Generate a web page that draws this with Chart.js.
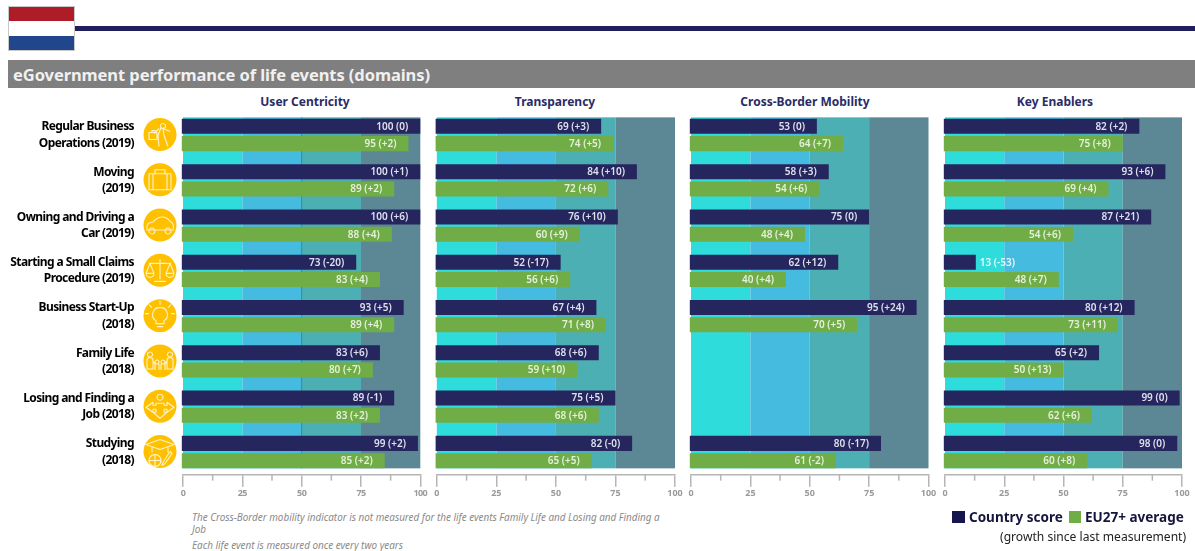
<!DOCTYPE html>
<html><head><meta charset="utf-8">
<script src="https://cdn.jsdelivr.net/npm/chart.js@4"></script>
<style>
html,body{margin:0;padding:0;background:#fff;width:1195px;height:551px;overflow:hidden;font-family:"Noto Sans","Open Sans",sans-serif}
.abs{position:absolute;white-space:nowrap}
canvas{position:absolute}
.holder{position:absolute;top:100px;height:410px}
.ptitle{position:absolute;top:93px;transform:translateX(-50%);font-weight:700;font-size:12px;color:#2b2b66;white-space:nowrap}
</style></head><body>
<div class="abs" style="left:8px;top:6px;width:67px;height:45px;box-sizing:border-box;border:1px solid #c9c9c9;background:linear-gradient(#AE1C28 0 33%,#fff 33% 67%,#21468B 67%)"></div>
<div class="abs" style="left:75px;top:26px;width:1120px;height:5px;background:#1f1f5e"></div>
<div class="abs" style="left:8px;top:60px;width:1187px;height:28px;background:#7f7f7f"></div>
<div class="abs" style="left:13px;top:63px;font-weight:700;font-size:16.5px;line-height:24px;color:#f0f0f0;letter-spacing:-.08px">eGovernment performance of life events (domains)</div>
<div class="ptitle" style="left:305px">User Centricity</div>
<div class="ptitle" style="left:555px">Transparency</div>
<div class="ptitle" style="left:805px">Cross-Border Mobility</div>
<div class="ptitle" style="left:1055px">Key Enablers</div>
<div class="holder" style="left:0;width:436px"><canvas id="c0"></canvas></div>
<div class="holder" style="left:420px;width:270px"><canvas id="c1"></canvas></div>
<div class="holder" style="left:674px;width:270px"><canvas id="c2"></canvas></div>
<div class="holder" style="left:928px;width:267px"><canvas id="c3"></canvas></div>
<div class="abs" style="left:192px;top:512px;font-style:italic;font-size:9.9px;line-height:11.5px;color:#8a8a8a">The Cross-Border mobility indicator is not measured for the life events Family Life and Losing and Finding a<br>Job</div>
<div class="abs" style="left:192px;top:540px;font-style:italic;font-size:9.9px;line-height:11.5px;color:#8a8a8a">Each life event is measured once every two years</div>
<div class="abs" style="left:952px;top:511px;width:13px;height:12px;background:#16164f"></div>
<div class="abs" style="left:969px;top:508px;font-weight:700;font-size:13.5px;line-height:18px;color:#14143c">Country score</div>
<div class="abs" style="left:1069px;top:511px;width:12px;height:12px;background:#70AD47"></div>
<div class="abs" style="left:1085px;top:508px;font-weight:700;font-size:13.5px;line-height:18px;color:#14143c">EU27+ average</div>
<div class="abs" style="left:1000px;top:529px;font-size:12.1px;line-height:16px;color:#222">(growth since last measurement)</div>
<script>
const lifeEvents = [
  ["Regular Business","Operations (2019)"],["Moving","(2019)"],["Owning and Driving a","Car (2019)"],
  ["Starting a Small Claims","Procedure (2019)"],["Business Start-Up","(2018)"],["Family Life","(2018)"],
  ["Losing and Finding a","Job (2018)"],["Studying","(2018)"]];
const domains = ["User Centricity","Transparency","Cross-Border Mobility","Key Enablers"];
const seriesNames = ["Country score","EU27+ average"];
const tickLabels = [0,25,50,75,100];

const userCountry = [100,100,100,73,93,83,89,99];
const userCountryGrowth = ["0","+1","+6","-20","+5","+6","-1","+2"];
const userEU = [95,89,88,83,89,80,83,85];
const userEUGrowth = ["+2","+2","+4","+4","+4","+7","+2","+2"];

const transCountry = [69,84,76,52,67,68,75,82];
const transCountryGrowth = ["+3","+10","+10","-17","+4","+6","+5","-0"];
const transEU = [74,72,60,56,71,59,68,65];
const transEUGrowth = ["+5","+6","+9","+6","+8","+10","+6","+5"];

const crossCountry = [53,58,75,62,95,null,null,80];
const crossCountryGrowth = ["0","+3","0","+12","+24",null,null,"-17"];
const crossEU = [64,54,48,40,70,null,null,61];
const crossEUGrowth = ["+7","+6","+4","+4","+5",null,null,"-2"];

const keyCountry = [82,93,87,13,80,65,99,98];
const keyCountryGrowth = ["+2","+6","+21","-53","+12","+2","0","0"];
const keyEU = [75,69,54,48,73,50,62,60];
const keyEUGrowth = ["+8","+4","+6","+7","+11","+13","+6","+8"];

const bandColors = ["#2FDCDC","#45BBDF","#4CAFB3","#5B8894"];
const navy = "#26265F", green = "#70AD47";
const FONT = '"Noto Sans","Open Sans",sans-serif';

/* white outline glyphs, in a box centred on the icon circle */
const iconPaths = [
 "M3-11a2.6 2.6 0 1 0 .01 0M1-7-2 1-1 12M3-7 4 1 8 12M3-6 10-3M-1-6-6-1M-11-2h8v7h-8zM-8-2v-2h3v2",
 "M-11-6H11V10H-11zM-5-6V-10H5V-6M-7-6V10M7-6V10",
 "M-13 5V1C-13-2-9-3-7-3-4-7 0-8 3-8 7-8 9-5 11-3 13-2 14 1 13 5ZM-8 3a3 3 0 1 0 .01 0M8 3a3 3 0 1 0 .01 0",
 "M0-11V9M-6 11H6M-11-7H11M-10-7-14 3H-6ZM-14 3A4 4 0 0 0-6 3M10-7 6 3H14ZM6 3A4 4 0 0 0 14 3",
 "M0-8A7 7 0 0 0-4 5V8H4V5A7 7 0 0 0 0-8M-3 11H3M0-15V-11M-11-11-8-8M11-11 8-8M-15-2H-11M15-2H11",
 "M-10-9a2.6 2.6 0 1 0 .01 0M10-9a2.6 2.6 0 1 0 .01 0M-13 8V-2L-10-4-7-2V8ZM13 8V-2L10-4 7-2V8ZM-3-1a2 2 0 1 0 .01 0M3-1a2 2 0 1 0 .01 0M-5 9V3H-1V9M1 9V3H5V9M-7 0-5 3M7 0 5 3",
 "M0-12a3 3 0 1 0 .01 0M-7-1H-4L-4-3 4-3V-1H7V-4L14 1 7 6V3H4V6H7L0 12-7 6H-4V3H-7V6L-14 1-7-4Z",
 "M-14-7 0-12 14-7 0-2ZM-8-4V1M8-4V1M-5 3a6 6 0 1 0 .01 0M-11 9H1M-5 3V15M10 0 3 11 2 14 5 12 12 2Z"
];
const iconLayer = {
  id:"icons",
  beforeDraw(chart){ chart.ctx.letterSpacing = "-0.6px"; },
  afterDraw(chart){
    const y = chart.scales.y, ctx = chart.ctx, cx = 160;
    iconPaths.forEach((d,i)=>{
      const cy = y.getPixelForValue(i) - 0.5;
      ctx.save();
      ctx.translate(cx,cy);
      ctx.fillStyle="#FFC000";
      ctx.beginPath();ctx.arc(0,0,16.5,0,Math.PI*2);ctx.fill();
      ctx.strokeStyle="#FFF2CC";ctx.lineWidth=1.1;ctx.lineJoin="round";
      ctx.stroke(new Path2D(d));
      ctx.restore();
    });
  }
};
const bandLayer = {
  id:"bands",
  beforeDatasetsDraw(chart,args,opts){
    const x = chart.scales.x, a = chart.chartArea, ctx = chart.ctx;
    const top = a.top+5, bottom = a.bottom-6.3;
    ctx.save();
    bandColors.forEach((c,i)=>{
      const l = x.getPixelForValue(tickLabels[i]), r = x.getPixelForValue(tickLabels[i+1]);
      ctx.fillStyle=c; ctx.fillRect(l,top,r-l,bottom-top);
    });
    if(opts.centerLine){
      const m = x.getPixelForValue(opts.centerLine);
      ctx.fillStyle="#2b8c9c"; ctx.fillRect(m-0.5,top,1,bottom-top);
    }
    ctx.restore();
  },
  afterDraw(chart){
    const x = chart.scales.x, a = chart.chartArea, ctx = chart.ctx;
    ctx.save();
    ctx.fillStyle="#b5b5b5";
    for(let i=0;i<tickLabels.length-1;i++){
      const p = x.getPixelForValue((tickLabels[i]+tickLabels[i+1])/2);
      ctx.fillRect(p-0.75,a.bottom,1.5,6);
    }
    ctx.restore();
  }
};
const valueLabels = {
  id:"valueLabels",
  afterDatasetsDraw(chart){
    const ctx = chart.ctx;
    ctx.save();
    ctx.letterSpacing = "0px";
    ctx.font = '600 10px '+FONT;
    ctx.textBaseline = "middle";
    chart.data.datasets.forEach((ds,di)=>{
      chart.getDatasetMeta(di).data.forEach((bar,i)=>{
        if(ds.data[i]==null) return;
        const txt = ds.data[i]+" ("+ds.growth[i]+")";
        const w = ctx.measureText(txt).width;
        const wBar = bar.x-bar.base;
        ctx.fillStyle = di===0 ? "#dfe0ee" : "#e6f0dc";
        let px = bar.x-12;
        if(wBar < w+16){ px = bar.x+4+w; ctx.fillStyle="#eafafa"; }
        ctx.textAlign="right";
        ctx.fillText(txt,px,bar.y+0.5);
      });
    });
    ctx.restore();
  }
};

function panel(id,idx,left,right,country,countryG,eu,euG){
  const el = document.getElementById(id);
  const holder = el.parentNode;
  const hl = parseFloat(holder.style.left), hw = parseFloat(holder.style.width);
  const first = idx===0;
  const yScale = {
    display:first,
    grid:{display:false,tickLength:49},border:{display:false},
    ticks:{padding:0,crossAlign:"near",autoSkip:false,color:"#000",font:{family:FONT,size:12,weight:"700",lineHeight:1.35}}
  };
  if(first) yScale.afterFit = s => { s.width = left; s.paddingTop = 0; s.paddingBottom = 0; };
  return new Chart(el,{
    type:"bar",
    data:{labels:lifeEvents,datasets:[
      {label:seriesNames[0],data:country,growth:countryG,backgroundColor:navy,base:-0.5},
      {label:seriesNames[1],data:eu,growth:euG,backgroundColor:green,base:-0.5}
    ]},
    plugins: first ? [bandLayer,valueLabels,iconLayer] : [bandLayer,valueLabels],
    options:{
      indexAxis:"y",responsive:false,maintainAspectRatio:false,animation:false,
      devicePixelRatio:1,
      layout:{padding:{left:first?0:left-hl,right:hl+hw-right,top:12.35,bottom:0}},
      categoryPercentage:.762,barPercentage:.87,
      clip:false,
      plugins:{legend:{display:false},tooltip:{enabled:false},title:{display:false},
        bands:{centerLine:first?50:0}},
      scales:{
        x:{min:0,max:100,
          ticks:{stepSize:25,autoSkip:false,maxRotation:0,padding:1.5,color:"#9a9a9a",font:{family:FONT,size:9,weight:"700"}},
          grid:{drawOnChartArea:false,drawTicks:true,tickLength:12,color:"#b5b5b5",lineWidth:1.5},
          border:{display:true,color:"#b5b5b5",width:1.5},
          afterFit(s){s.height=35.35;}
        },
        y:yScale
      }
    }
  });
}
function sized(id,w){const c=document.getElementById(id);c.width=w;c.height=410;c.style.width=w+"px";c.style.height="410px";}
sized("c0",436);sized("c1",270);sized("c2",270);sized("c3",267);
panel("c0",0,183,420.3,userCountry,userCountryGrowth,userEU,userEUGrowth);
panel("c1",1,436.8,675,transCountry,transCountryGrowth,transEU,transEUGrowth);
panel("c2",2,691,928.5,crossCountry,crossCountryGrowth,crossEU,crossEUGrowth);
panel("c3",3,945,1182,keyCountry,keyCountryGrowth,keyEU,keyEUGrowth);
</script>
</body></html>
